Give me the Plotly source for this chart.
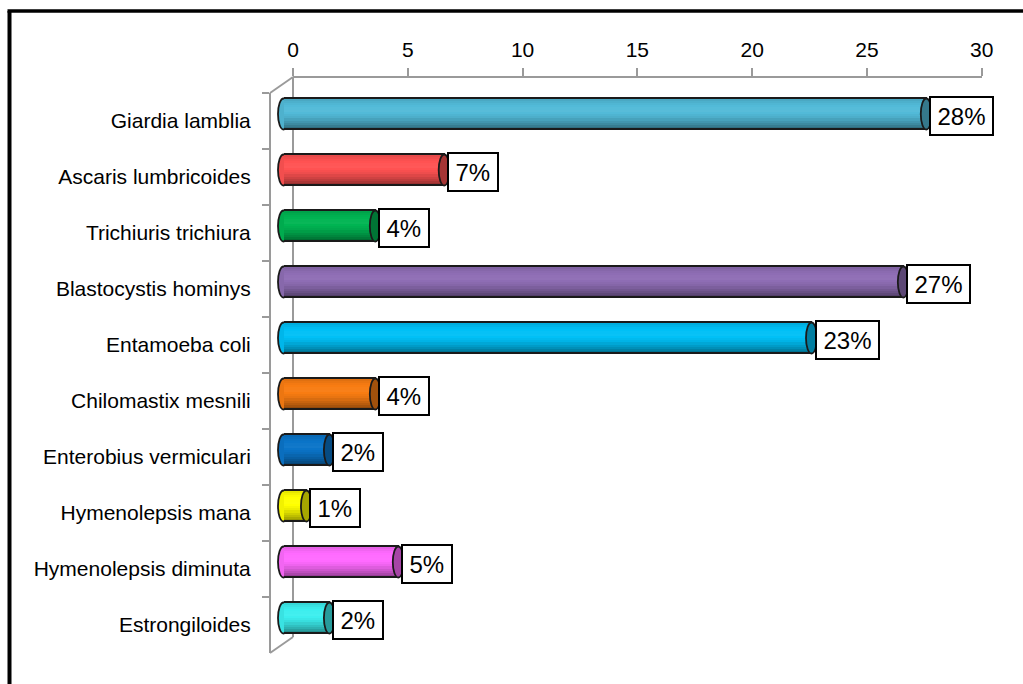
import numpy as np
import plotly.graph_objects as go

# ---- data ----
categories = [
    "Giardia lamblia", "Ascaris lumbricoides", "Trichiuris trichiura",
    "Blastocystis hominys", "Entamoeba coli", "Chilomastix mesnili",
    "Enterobius vermiculari", "Hymenolepsis mana", "Hymenolepsis diminuta",
    "Estrongiloides",
]
percent = [28, 7, 4, 27, 23, 4, 2, 1, 5, 2]
bar_colors = [
    "#52BAD8", "#FF5252", "#00B452", "#8E6DB4", "#00C0F6",
    "#F87C12", "#0A74C8", "#FFFF00", "#FF6AFF", "#3CEEEE",
]
x_ticks = [0, 5, 10, 15, 20, 25, 30]

# ---- geometry (pixels in a 1023 x 684 canvas) ----
W, H = 1023, 684
def px(x):
    return x / W
def py(y):
    return 1 - y / H

FONT = "Liberation Sans, Arial, sans-serif"
AXIS_GRAY = "#9a9a9a"
BAR_W = 0.554          # bar thickness in category units
CAP_HALF = 0.24        # half width of the elliptical end caps (value units)
N_STRIPS = 14
UNIT_PX = 688.7 / 30   # pixels per percentage point
ZERO_PX = 283.5        # pixel position of 0 at the depth of the cylinders
X2_MIN, X2_MAX = -1.0, 31.0


def hex_to_rgb(h):
    h = h.lstrip("#")
    return np.array([int(h[i:i + 2], 16) for i in (0, 2, 4)], dtype=float)


def shade(hex_color, amount):
    c = hex_to_rgb(hex_color)
    if amount >= 0:
        c = c + (255 - c) * amount
    else:
        c = c * (1 + amount)
    c = np.clip(c, 0, 255).round().astype(int)
    return "rgb(%d,%d,%d)" % tuple(c)


# vertical lighting profile of a cylinder (0 = top edge, 1 = bottom edge)
prof_t = [0.0, 0.15, 0.38, 0.6, 0.85, 1.0]
prof_a = [-0.12, -0.03, 0.04, -0.06, -0.28, -0.45]

fig = go.Figure()

# invisible trace that gives the front category axis its labels
fig.add_trace(go.Scatter(
    x=[0] * len(categories), y=categories, xaxis="x", yaxis="y",
    mode="markers", marker=dict(opacity=0), hoverinfo="skip", showlegend=False,
))

# shaded strips forming each cylinder body
strip_h = BAR_W / N_STRIPS
for i in range(N_STRIPS):
    t = (i + 0.5) / N_STRIPS
    a = float(np.interp(t, prof_t, prof_a))
    fig.add_trace(go.Bar(
        x=percent, y=categories, orientation="h",
        xaxis="x2", yaxis="y2",
        width=strip_h * 1.08, offset=-BAR_W / 2 + i * strip_h,
        marker=dict(color=[shade(c, a) for c in bar_colors], line=dict(width=0)),
        hoverinfo="skip", showlegend=False,
    ))

# dark outline along the top and bottom of each cylinder
edge_w = 0.03
for off in (-BAR_W / 2 - edge_w / 2, BAR_W / 2 - edge_w / 2):
    fig.add_trace(go.Bar(
        x=percent, y=categories, orientation="h",
        xaxis="x2", yaxis="y2", width=edge_w, offset=off,
        marker=dict(color="#1a1a1a", line=dict(width=0)),
        hoverinfo="skip", showlegend=False,
    ))

shapes = []
# walls of the 3-D frame
shapes.append(dict(type="line", xref="paper", yref="paper",
                   x0=px(293), y0=py(77), x1=px(293), y1=py(637),
                   line=dict(color=AXIS_GRAY, width=2), layer="below"))
shapes.append(dict(type="line", xref="paper", yref="paper",
                   x0=px(270), y0=py(93), x1=px(293), y1=py(77),
                   line=dict(color=AXIS_GRAY, width=2), layer="below"))
shapes.append(dict(type="line", xref="paper", yref="paper",
                   x0=px(270), y0=py(653), x1=px(293), y1=py(637),
                   line=dict(color=AXIS_GRAY, width=2), layer="below"))

for k, (v, c) in enumerate(zip(percent, bar_colors)):
    # rounded start of the cylinder
    shapes.append(dict(type="circle", xref="x2", yref="y2",
                       x0=-CAP_HALF, x1=CAP_HALF,
                       y0=k - BAR_W / 2, y1=k + BAR_W / 2,
                       fillcolor=shade(c, -0.05),
                       line=dict(color="#1a1a1a", width=1.8), layer="below"))
    # end cap
    shapes.append(dict(type="circle", xref="x2", yref="y2",
                       x0=v - CAP_HALF, x1=v + CAP_HALF,
                       y0=k - BAR_W / 2, y1=k + BAR_W / 2,
                       fillcolor=shade(c, -0.35),
                       line=dict(color="#1a1a1a", width=1.8), layer="above"))

# outer frame
shapes.append(dict(type="line", xref="paper", yref="paper",
                   x0=px(9.5), y0=py(11), x1=px(9.5), y1=-0.1,
                   line=dict(color="black", width=4)))
shapes.append(dict(type="line", xref="paper", yref="paper",
                   x0=px(7.5), y0=py(11), x1=1.1, y1=py(11),
                   line=dict(color="black", width=3.5)))

HAIR = "\u200a"
annotations = []
for cat, v in zip(categories, percent):
    annotations.append(dict(
        x=v, y=cat, xref="x2", yref="y2",
        text=HAIR + "%d%%" % v + HAIR, showarrow=False,
        xanchor="left", yanchor="middle", xshift=3, yshift=-2,
        font=dict(family=FONT, size=24, color="black"),
        bgcolor="white", bordercolor="black", borderwidth=2, borderpad=4.5,
    ))

fig.update_layout(
    width=W, height=H, autosize=False,
    margin=dict(l=0, r=0, t=0, b=0, pad=0, autoexpand=False),
    paper_bgcolor="white", plot_bgcolor="rgba(0,0,0,0)",
    barmode="overlay", bargap=0,
    showlegend=False,
    font=dict(family=FONT, color="black"),
    xaxis=dict(
        domain=[px(293), px(981.7)], range=[0, 30],
        anchor="free", position=py(77), side="top",
        tickmode="array", tickvals=x_ticks,
        showline=True, linecolor=AXIS_GRAY, linewidth=2,
        ticks="outside", ticklen=8, tickwidth=2, tickcolor=AXIS_GRAY,
        ticklabelstandoff=3,
        showgrid=False, zeroline=False, automargin=False,
        tickfont=dict(family=FONT, size=21, color="black"),
    ),
    yaxis=dict(
        domain=[py(653), py(93)],
        anchor="free", position=px(270),
        type="category", categoryorder="array", categoryarray=categories,
        range=[len(categories) - 0.5, -0.5],
        showline=True, linecolor=AXIS_GRAY, linewidth=2,
        ticks="outside", ticklen=7, tickwidth=2, tickcolor=AXIS_GRAY,
        tickson="boundaries", ticklabelstandoff=14,
        showgrid=False, zeroline=False, automargin=False,
        tickfont=dict(family=FONT, size=21, color="black"),
    ),
    xaxis2=dict(
        domain=[px(ZERO_PX + X2_MIN * UNIT_PX), px(ZERO_PX + X2_MAX * UNIT_PX)],
        range=[X2_MIN, X2_MAX],
        anchor="y2", visible=False, showgrid=False, zeroline=False,
    ),
    yaxis2=dict(
        domain=[py(646), py(86)], anchor="x2",
        type="category", categoryorder="array", categoryarray=categories,
        range=[len(categories) - 0.5, -0.5],
        visible=False, showgrid=False, zeroline=False,
    ),
    shapes=shapes,
    annotations=annotations,
)

fig.write_html("out.html")
